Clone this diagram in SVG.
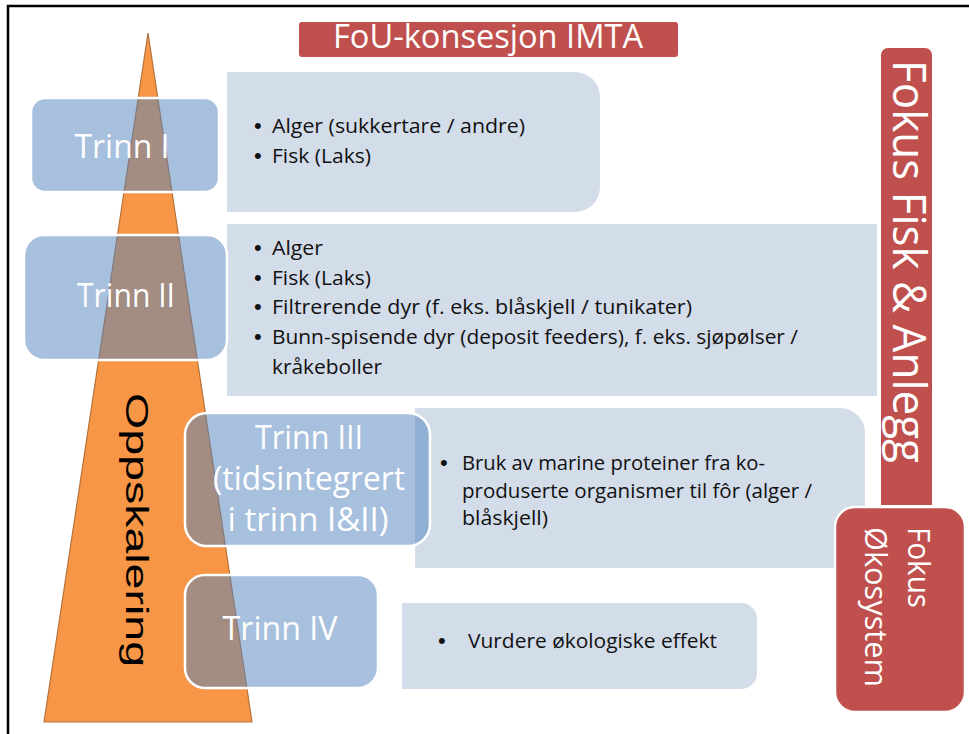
<svg xmlns="http://www.w3.org/2000/svg" width="969" height="734" viewBox="0 0 969 734">
<style>
.tb{fill:#D3DCE9}
.lbl{fill:#4F81BD;fill-opacity:0.5;stroke:#fff;stroke-width:2.5}
.red{fill:#C0504D}
.lt{font-family:'Open Sans',sans-serif;font-size:32px;fill:#fff;text-anchor:middle}
.bt{font-family:'Open Sans',sans-serif;font-size:20px;fill:#111}
.bu{font-family:'Liberation Sans',Arial,sans-serif;font-size:22px;fill:#111}
.wt{font-family:'Open Sans',sans-serif;fill:#fff}
</style>
<rect x="0" y="0" width="969" height="734" fill="#fff"/>
<rect x="8" y="6" width="980" height="745" fill="none" stroke="#000" stroke-width="2.5"/>

<g id="box-trinn1-text">
<path class="tb" d="M227,72 H575 A25,25 0 0 1 600,97 V187 A25,25 0 0 1 575,212 H227 Z"/>
<text class="bu" x="254" y="133">•</text>
<text class="bt" x="272" y="133" textLength="253" lengthAdjust="spacingAndGlyphs">Alger (sukkertare / andre)</text>
<text class="bu" x="254" y="163">•</text>
<text class="bt" x="272" y="163" textLength="99" lengthAdjust="spacingAndGlyphs">Fisk (Laks)</text>
</g>

<g id="box-trinn2-text">
<rect class="tb" x="227" y="224" width="650" height="172"/>
<text class="bu" x="254" y="255">•</text>
<text class="bt" x="272" y="255" textLength="51" lengthAdjust="spacingAndGlyphs">Alger</text>
<text class="bu" x="254" y="285">•</text>
<text class="bt" x="272" y="285" textLength="99" lengthAdjust="spacingAndGlyphs">Fisk (Laks)</text>
<text class="bu" x="254" y="314">•</text>
<text class="bt" x="272" y="314" textLength="420" lengthAdjust="spacingAndGlyphs">Filtrerende dyr (f. eks. blåskjell / tunikater)</text>
<text class="bu" x="254" y="344">•</text>
<text class="bt" x="272" y="344" textLength="526" lengthAdjust="spacingAndGlyphs">Bunn-spisende dyr (deposit feeders), f. eks. sjøpølser /</text>
<text class="bt" x="272" y="374" textLength="110" lengthAdjust="spacingAndGlyphs">kråkeboller</text>
</g>

<g id="box-trinn3-text">
<path class="tb" d="M415,408 H840 A25,25 0 0 1 865,433 V543 A25,25 0 0 1 840,568 H415 Z"/>
<text class="bu" x="440" y="470">•</text>
<text class="bt" x="462" y="470" textLength="303" lengthAdjust="spacingAndGlyphs">Bruk av marine proteiner fra ko-</text>
<text class="bt" x="462" y="498" textLength="350" lengthAdjust="spacingAndGlyphs">produserte organismer til fôr (alger /</text>
<text class="bt" x="462" y="525" textLength="86" lengthAdjust="spacingAndGlyphs">blåskjell)</text>
</g>

<g id="box-trinn4-text">
<path class="tb" d="M402,603 H741 A16,16 0 0 1 757,619 V673 A16,16 0 0 1 741,689 H402 Z"/>
<text class="bu" x="438" y="648">•</text>
<text class="bt" x="468" y="648" textLength="249" lengthAdjust="spacingAndGlyphs">Vurdere økologiske effekt</text>
</g>

<g id="oppskalering">
<polygon points="148,33 44,722 252,722" fill="#F79646" stroke="#B5733C" stroke-width="1.2"/>
<text transform="translate(126,393) rotate(90)" x="0" y="0" font-family="'Liberation Sans',Arial,sans-serif" font-size="31" fill="#000" textLength="274" lengthAdjust="spacingAndGlyphs">Oppskalering</text>
</g>

<g id="trinn1">
<rect class="lbl" x="31" y="98" width="188" height="94" rx="14"/>
<text class="lt" x="122" y="158" textLength="95" lengthAdjust="spacingAndGlyphs">Trinn I</text>
</g>

<g id="trinn2">
<rect class="lbl" x="24" y="235" width="203" height="125" rx="20"/>
<text class="lt" x="126" y="307" textLength="98" lengthAdjust="spacingAndGlyphs">Trinn II</text>
</g>

<g id="trinn3">
<rect class="lbl" x="185" y="413" width="245" height="133" rx="22"/>
<text class="lt" x="309" y="449" textLength="108" lengthAdjust="spacingAndGlyphs">Trinn III</text>
<text class="lt" x="309" y="490" textLength="192" lengthAdjust="spacingAndGlyphs">(tidsintegrert</text>
<text class="lt" x="308" y="531" textLength="161" lengthAdjust="spacingAndGlyphs">i trinn I&amp;II)</text>
</g>

<g id="trinn4">
<rect class="lbl" x="185" y="575" width="193" height="113" rx="20"/>
<text class="lt" x="280" y="640" textLength="115" lengthAdjust="spacingAndGlyphs">Trinn IV</text>
</g>

<g id="fou-konsesjon">
<rect class="red" x="299" y="22" width="379" height="35" rx="3"/>
<text class="wt" x="488" y="48" font-size="32" text-anchor="middle" textLength="310" lengthAdjust="spacingAndGlyphs">FoU-konsesjon IMTA</text>
</g>

<g id="fokus-fisk-anlegg">
<path class="red" d="M881,505 V55 A7,7 0 0 1 888,48 H925 A7,7 0 0 1 932,55 V505 Z"/>
<text class="wt" transform="translate(893,60) rotate(90)" x="0" y="0" font-size="45" textLength="403" lengthAdjust="spacingAndGlyphs">Fokus Fisk &amp; Anlegg</text>
</g>

<g id="fokus-okosystem">
<rect class="red" x="835" y="507" width="130" height="205" rx="20" stroke="#fff" stroke-width="2.5"/>
<text class="wt" transform="translate(908,527) rotate(90)" x="0" y="0" font-size="31" textLength="81" lengthAdjust="spacingAndGlyphs">Fokus</text>
<text class="wt" transform="translate(865,527) rotate(90)" x="0" y="0" font-size="31" textLength="160" lengthAdjust="spacingAndGlyphs">Økosystem</text>
</g>

<g id="connectors"/>
</svg>
